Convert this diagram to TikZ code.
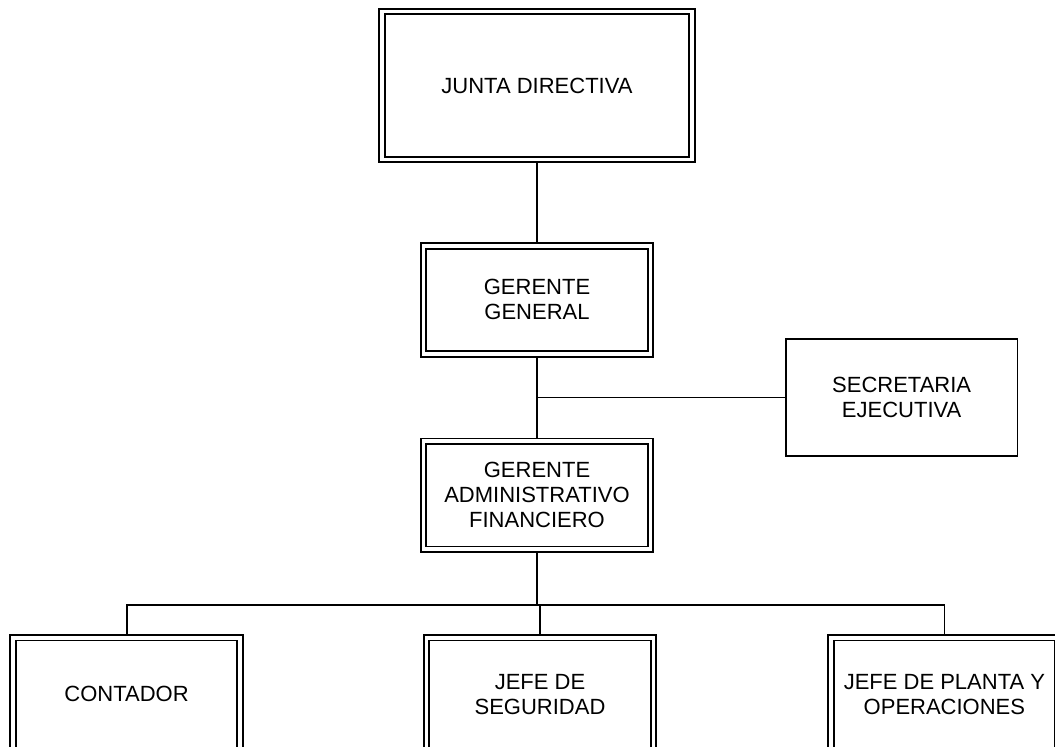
\documentclass[tikz,border=0pt]{standalone}
\usepackage{fontspec}
\setmainfont{Liberation Sans}
\usetikzlibrary{positioning,calc}

\begin{document}
\begin{tikzpicture}[x=1pt,y=1pt,line width=1.8pt,
    cargo/.style={rectangle,draw,double,double distance=3.8pt,outer sep=3.7pt,
      minimum width=227pt,minimum height=108pt,align=center,inner sep=2pt,
      font=\fontsize{22}{25}\selectfont},
    apoyo/.style={rectangle,draw,minimum width=231.5pt,minimum height=116.5pt,
      align=center,font=\fontsize{22}{25}\selectfont},
    linea/.style={line width=1.8pt}]
      \useasboundingbox (0,0) rectangle (1055,747);
      \node[cargo,minimum width=310pt,minimum height=148pt] (junta) at (537,661.5) {JUNTA DIRECTIVA};
      \node[cargo,below=79pt of junta] (gg) {GERENTE\\GENERAL};
      \node[cargo,below=80pt of gg] (ga) {GERENTE\\ADMINISTRATIVO\\FINANCIERO};
      \coordinate (br) at ($(gg.south)!0.5!(ga.north)$);
      \node[apoyo,right=248pt of br] (sec) {SECRETARIA\\EJECUTIVA};
      \node[cargo,below=81pt of ga,xshift=3pt,minimum height=113pt] (seg) {JEFE DE\\SEGURIDAD};
      \node[cargo,left=179pt of seg,minimum height=113pt] (cont) {CONTADOR};
      \node[cargo,right=170pt of seg,minimum height=113pt] (plan) {JEFE DE PLANTA Y\\OPERACIONES};

      \draw[linea] (junta) -- (gg); \draw[linea] (gg) -- (ga);
      \draw[linea] (br) -- (sec);
      \draw[linea] (ga.south) -- ++(0,-52) coordinate (bus);
      \draw[linea] (cont.north) |- (bus) -| (plan.north);
      \draw[linea] (seg.north) -- (seg.north |- bus);
    \end{tikzpicture}
\end{document}
